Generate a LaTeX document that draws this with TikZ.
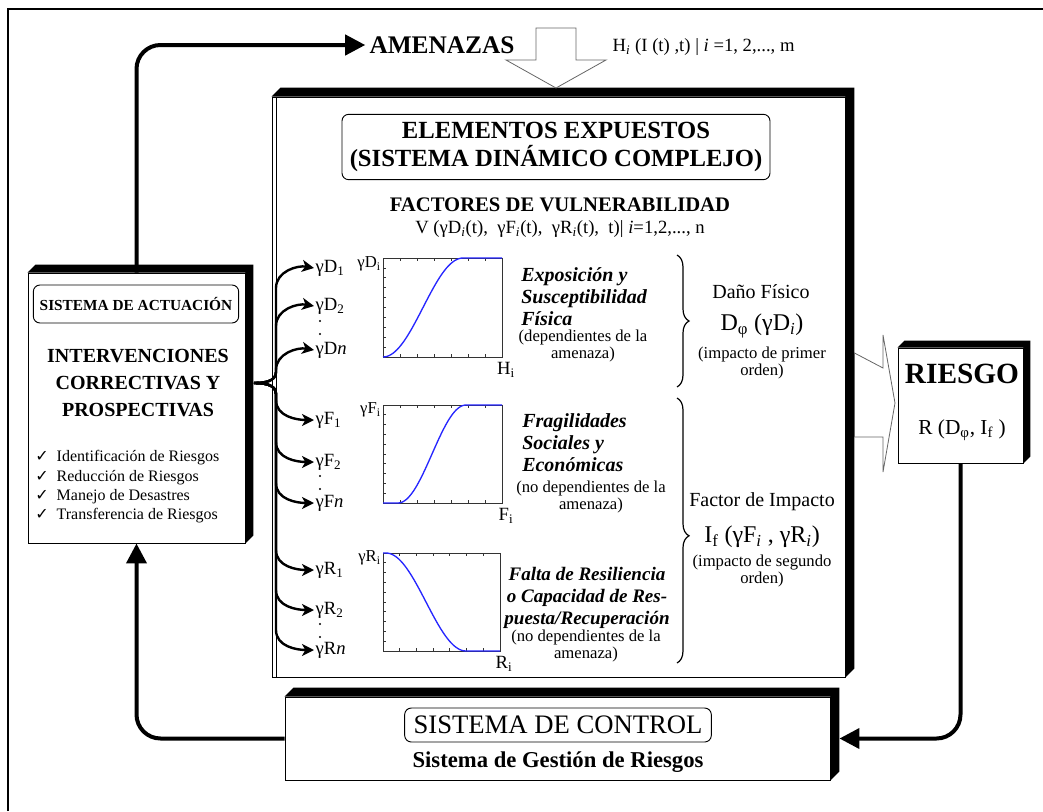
\documentclass[tikz,border=0pt]{standalone}
\usepackage{fontspec}
\setmainfont{Liberation Serif}
\newfontfamily\checkfont{DejaVu Sans}
\usetikzlibrary{fit,calc,arrows.meta,decorations.pathreplacing}

\newcommand{\idx}[1]{\textsubscript{#1}}
% black extrusion on top and right side of a box
\newcommand{\boxdepth}[2]{%
  \fill (#1.north west) -- ++(#2,-#2) -- ($(#1.north east)+(#2,-#2)$)
    -- ($(#1.south east)+(#2,-#2)$) -- (#1.south east) -- (#1.north east) -- cycle;}

\begin{document}
\begin{tikzpicture}[x=0.75pt, y=-0.75pt,
    frontbox/.style={draw, fill=white, inner sep=0pt, line width=0.7pt},
    titlebox/.style={draw, rounded corners=5pt, line width=0.7pt, align=center, inner sep=0pt},
    feedback/.style={line width=3pt, rounded corners=18pt},
    feedhead/.style={-{Triangle[length=15pt,width=15pt]}},
    branch/.style={line width=1.8pt, -{Stealth[length=9pt,width=9pt,inset=2.5pt]}},
    hollow/.style={draw=black!60, fill=white, line width=0.6pt},
    plotframe/.style={draw=black!80, line width=0.6pt},
    curve/.style={blue!85!white, line width=1pt},
    lbl/.style={font=\fontsize{14}{16}\selectfont, inner sep=1pt},
    axl/.style={font=\fontsize{12.5}{14}\selectfont, inner sep=0pt},
    desc/.style={font=\fontsize{15}{16.5}\selectfont\bfseries\itshape, align=left, inner sep=0pt},
    note/.style={font=\fontsize{12.5}{9.5}\selectfont, align=center, inner sep=0pt},
    bigbrace/.style={decorate, decoration={brace, amplitude=9pt}, line width=0.9pt}
  ]
  \useasboundingbox (0,0) rectangle (1043,811);
  \draw[line width=1pt] (8,811) -- (8,9) -- (1043,9);

  % boxes
  \node[frontbox, fit={(272,97) (845,677)}] (main) {};
  \boxdepth{main}{9}
  \draw[line width=0.6pt] ($(main.north west)+(5,0)$) -- ($(main.south west)+(5,0)$);
  \node[frontbox, fit={(28,273) (245,543)}] (act) {};
  \boxdepth{act}{8}
  \node[frontbox, fit={(898,348) (1023,463)}] (riesgo) {};
  \boxdepth{riesgo}{7}
  \node[frontbox, fit={(285,697) (830,780)}] (control) {};
  \boxdepth{control}{9}

  % amenazas
  \node[font=\fontsize{19}{22}\selectfont\bfseries, inner sep=3pt] (amen) at (442,45) {AMENAZAS};
  \node[font=\fontsize{14}{16}\selectfont, anchor=west] (hform) at (608,47)
    {H\idx{\textit{i}} (I (t) ,t) | \textit{i} =1, 2,..., m};
  \draw[hollow] (536,28) -- (576,28) -- (576,60) -- (606,60) -- (556,88)
    -- (506,60) -- (536,60) -- cycle;

  % elementos expuestos
  \node[titlebox, minimum width=321pt, minimum height=49pt,
    font=\fontsize{18.5}{21}\selectfont\bfseries] (elem) at (556,147)
    {ELEMENTOS EXPUESTOS\\(SISTEMA DINÁMICO COMPLEJO)};
  \node[font=\fontsize{15.5}{18}\selectfont\bfseries] (factores) at (560,205)
    {FACTORES DE VULNERABILIDAD};
  \node[font=\fontsize{14}{16}\selectfont] (vfun) at (560,229)
    {V (γD\idx{\textit{i}}(t),~ γF\idx{\textit{i}}(t),~ γR\idx{\textit{i}}(t),~ t)| \textit{i}=1,2,..., n};

  % the three curves
  \foreach \ya/\yb/\xb in {258/357/502, 405/503/502, 553/651/500} {
    \draw[plotframe] (383,\ya) rectangle (\xb,\yb);
    \foreach \k in {1,...,9}
      \draw[plotframe] (383,{\ya+\k*(\yb-\ya)/10}) -- ++(3,0);
    \foreach \k in {1,...,6}
      \draw[plotframe] ({383+\k*(\xb-383)/7},\yb) -- ++(0,-3)
        ({383+\k*(\xb-383)/7},\ya) -- ++(0,3);
  }
  \draw[curve] plot[domain=0:1, samples=40] ({383+80*\x},{357-99*(1-cos(180*\x))/2}) -- (502,258);
  \draw[curve] (383,503) -- plot[domain=0:1, samples=40] ({398+68*\x},{503-98*(1-cos(180*\x))/2}) -- (502,405);
  \draw[curve] (383,553) -- plot[domain=0:1, samples=40] ({386+80*\x},{553+98*(1-cos(180*\x))/2}) -- (500,651);

  \node[axl, anchor=east] (dax) at (381,264) {γD\idx{i}};
  \node[axl, anchor=east] (fax) at (381,410) {γF\idx{i}};
  \node[axl, anchor=east] (rax) at (381,558) {γR\idx{i}};
  \node[axl, font=\fontsize{14}{15}\selectfont] (hax) at (506,370) {H\idx{i}};
  \node[axl, font=\fontsize{14}{15}\selectfont] (fiax) at (506,516) {F\idx{i}};
  \node[axl, font=\fontsize{14}{15}\selectfont] (riax) at (504,664) {R\idx{i}};

  % labels of the factors
  \foreach \nm/\txt/\yy in {d1/D\idx{1}/268, d2/D\idx{2}/306, dn/D\textit{n}/350,
      f1/F\idx{1}/420, f2/F\idx{2}/462, fn/F\textit{n}/503,
      r1/R\idx{1}/570, r2/R\idx{2}/610, rn/R\textit{n}/650}
    \node[lbl, anchor=west] (\nm) at (314,\yy) {γ\txt};
  \foreach \yy in {321,334, 476,489, 624,637}
    \fill (320,\yy) circle (1.1);

  % descriptions
  \node[desc, anchor=west] (expo) at (521,297) {Exposición y\\Susceptibilidad\\Física};
  \node[note] (expodep) at (583,346) {(dependientes de la\\amenaza)};
  \node[desc, anchor=west] (frag) at (522,443) {Fragilidades\\Sociales y\\Económicas};
  \node[note] (fragdep) at (591,497) {(no dependientes de la\\amenaza)};
  \node[desc, align=center, font=\fontsize{14.3}{16.5}\selectfont\bfseries\itshape] (falta) at (587,598)
    {Falta de Resiliencia\\o Capacidad de Res-\\puesta/Recuperación};
  \node[note] (faltadep) at (586,646) {(no dependientes de la\\amenaza)};

  \draw[bigbrace] (677,255) -- (677,387);
  \draw[bigbrace, decoration={aspect=0.52}] (677,398) -- (677,663);

  \node[font=\fontsize{15}{17}\selectfont] (dano) at (761,292) {Daño Físico};
  \node[font=\fontsize{18}{20}\selectfont] (dphi) at (762,326) {D\idx{φ} (γD\idx{\textit{i}})};
  \node[note] (orden1) at (762,363) {(impacto de primer\\orden)};
  \node[font=\fontsize{15}{17}\selectfont] (factor) at (762,502) {Factor de Impacto};
  \node[font=\fontsize{18}{20}\selectfont] (ifun) at (762,537)
    {I\idx{f} (γF\idx{\textit{i}} , γR\idx{\textit{i}})};
  \node[note] (orden2) at (762,571) {(impacto de segundo\\orden)};

  % riesgo
  \draw[hollow] ($(main.east)+(9,-34)$) -- (883,368) -- (883,335) -- (895,403)
    -- (883,472) -- (883,437) -- ($(main.east)+(9,50)$) -- cycle;
  \node[font=\fontsize{22}{24}\selectfont\bfseries] (riesgot) at (962,374) {RIESGO};
  \node[font=\fontsize{16}{18}\selectfont] (rfun) at (962,430) {R (D\idx{φ}, I\idx{f} )};

  % sistema de actuacion
  \node[titlebox, minimum width=154pt, minimum height=28.5pt,
    font=\fontsize{11.5}{13}\selectfont\bfseries] (acttitle) at (136,304) {SISTEMA DE ACTUACIÓN};
  \node[font=\fontsize{15}{20}\selectfont\bfseries, align=center] (interv) at (138,383)
    {INTERVENCIONES\\CORRECTIVAS Y\\PROSPECTIVAS};
  \node[font=\fontsize{12}{14.6}\selectfont, align=left, anchor=north west, inner sep=0pt] (tasks) at (35,450)
    {{\checkfont ✓}\enspace Identificación de Riesgos\\
     {\checkfont ✓}\enspace Reducción de Riesgos\\
     {\checkfont ✓}\enspace Manejo de Desastres\\
     {\checkfont ✓}\enspace Transferencia de Riesgos};

  % sistema de control
  \node[titlebox, minimum width=230pt, minimum height=25.5pt,
    font=\fontsize{20}{22}\selectfont] (ctrltitle) at (558,725) {SISTEMA DE CONTROL};
  \node[font=\fontsize{17}{19}\selectfont\bfseries] (gestion) at (558,762) {Sistema de Gestión de Riesgos};

  % connectors
  \coordinate (fork) at (254,383);
  \foreach \nm in {d1,d2,dn}
    \draw[branch] (fork) to[out=0,in=-90] (276,372) -- ($(\nm.west)+(-38,20)$)
      to[out=90,in=170] (\nm.west);
  \foreach \nm in {f1,f2,fn,r1,r2,rn}
    \draw[branch] (fork) to[out=0,in=90] (276,394) -- ($(\nm.west)+(-38,-20)$)
      to[out=-90,in=180] (\nm.west);

  \draw[feedback, feedhead] (act.north) -- (act.north |- amen.west) -- (amen.west);
  \draw[feedback, feedhead] (control.west) -- (act.south |- control.west) -- (act.south);
  \coordinate (ctrlin) at ($(control.east)+(9,0)$);
  \draw[feedback, feedhead] (riesgo.south) -- (riesgo.south |- ctrlin) -- (ctrlin);
\end{tikzpicture}
\end{document}
